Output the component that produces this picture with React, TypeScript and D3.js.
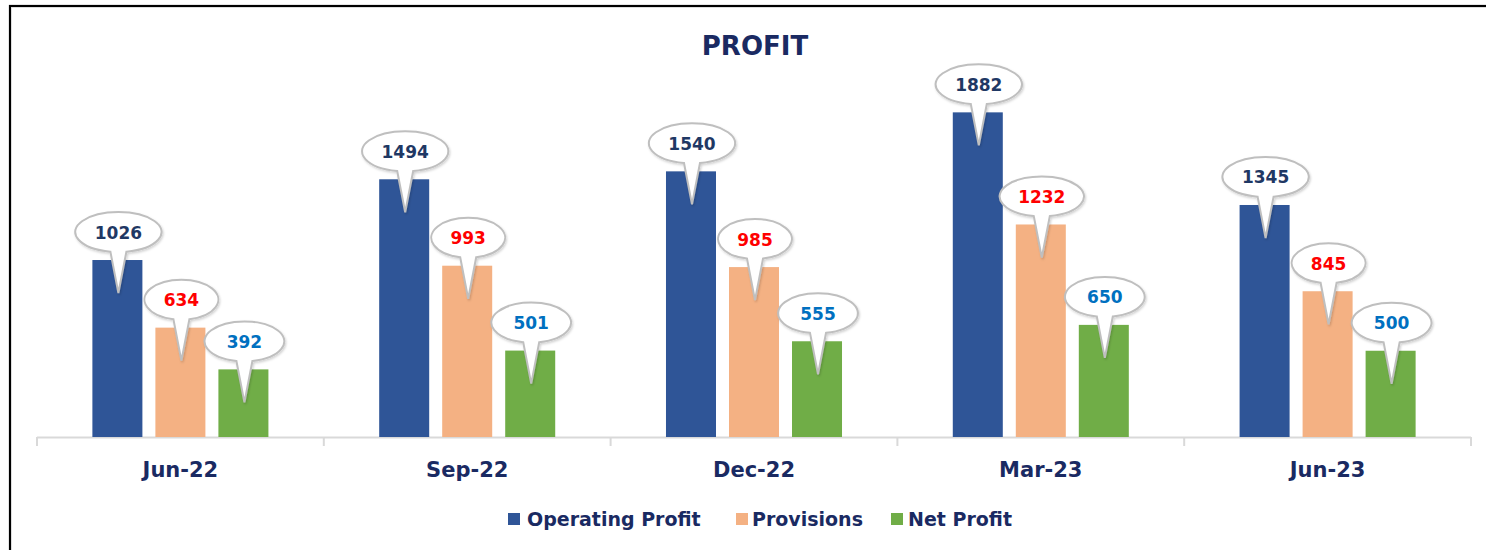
import React from "react";
import * as d3 from "d3";

const categories = ["Jun-22", "Sep-22", "Dec-22", "Mar-23", "Jun-23"];
const seriesNames = ["Operating Profit", "Provisions", "Net Profit"];
const operatingProfit = [1026, 1494, 1540, 1882, 1345];
const provisions = [634, 993, 985, 1232, 845];
const netProfit = [392, 501, 555, 650, 500];
const seriesValues = [operatingProfit, provisions, netProfit];
const barColors = ["#2F5597", "#F4B183", "#70AD47"];
const labelColors = ["#1F3864", "#FF0000", "#0070C0"];

const W = 1486;
const H = 550;
const FONT = "'DejaVu Sans', sans-serif";
const NAVY = "#1A2A62";

export default function App() {
  React.useEffect(() => {
    document.body.style.margin = "0";
    document.body.style.overflow = "hidden";
  }, []);

  const x0 = d3.scaleBand<string>().domain(categories).range([37, 1471]).padding(0);
  const x1 = d3
    .scaleBand<string>()
    .domain(seriesNames)
    .range([0, x0.bandwidth()])
    .paddingInner(13 / 63)
    .paddingOuter(0.879);
  const y = d3.scaleLinear().domain([0, 2000]).range([437, 92]);

  const bubble = (cx: number, cy: number, rx: number, ry: number, tipX: number, tipY: number) => {
    const hb = 8;
    const by = cy + ry * Math.sqrt(1 - (hb / rx) ** 2);
    return `M${cx - hb},${by} A${rx},${ry} 0 1 1 ${cx + hb},${by} L${tipX},${tipY} Z`;
  };

  const ticks = [...categories.map((c) => x0(c)!), 1471];

  return (
    <svg width={W} height={H} style={{ position: "absolute", left: 0, top: 0 }}>
      <defs>
        <filter id="sh" x="-20%" y="-20%" width="140%" height="160%">
          <feDropShadow dx="1" dy="1.5" stdDeviation="1" floodColor="#000" floodOpacity="0.18" />
        </filter>
      </defs>
      <rect x={0} y={0} width={W} height={H} fill="#fff" />
      <rect x={10} y={6} width={W + 20} height={H + 20} fill="none" stroke="#000" strokeWidth={2.2} />
      <line x1={11.5} y1={7.5} x2={W} y2={7.5} stroke="#ddd" strokeWidth={1} />
      <line x1={11.5} y1={7.5} x2={11.5} y2={H} stroke="#ddd" strokeWidth={1} />

      <text x={755} y={55} textAnchor="middle" fontFamily={FONT} fontWeight="bold" fontSize={26} fill={NAVY}>
        PROFIT
      </text>

      {/* axis */}
      <line x1={37} y1={437.5} x2={1471} y2={437.5} stroke="#D9D9D9" strokeWidth={2} />
      {ticks.map((t, i) => (
        <line key={i} x1={t} y1={437} x2={t} y2={446} stroke="#D9D9D9" strokeWidth={2} />
      ))}
      {categories.map((c) => (
        <text
          key={c}
          x={x0(c)! + x0.bandwidth() / 2}
          y={477}
          textAnchor="middle"
          fontFamily={FONT}
          fontWeight="bold"
          fontSize={21}
          fill={NAVY}
        >
          {c}
        </text>
      ))}

      {/* bars */}
      {categories.map((c, ci) =>
        seriesNames.map((s, si) => {
          const v = seriesValues[si][ci];
          const bx = x0(c)! + x1(s)!;
          return (
            <rect key={c + s} x={bx} y={y(v)} width={x1.bandwidth()} height={437 - y(v)} fill={barColors[si]} />
          );
        })
      )}

      {/* callouts */}
      {categories.map((c, ci) =>
        seriesNames.map((s, si) => {
          const v = seriesValues[si][ci];
          const label = String(v);
          const cx = x0(c)! + x1(s)! + x1.bandwidth() / 2 + 1;
          const top = y(v);
          const cy = top - 28;
          const rx = 22 + 5.3 * label.length + (si === 2 ? 2 : si === 1 ? -1 : 0);
          const ry = 20;
          return (
            <g key={"b" + c + s}>
              <path
                d={bubble(cx, cy, rx, ry, cx, top + 33)}
                fill="#fff"
                stroke="#BFBFBF"
                strokeWidth={2}
                filter="url(#sh)"
              />
              <text
                x={cx}
                y={cy + 6.5}
                textAnchor="middle"
                fontFamily={FONT}
                fontWeight="bold"
                fontSize={17}
                fill={labelColors[si]}
              >
                {label}
              </text>
            </g>
          );
        })
      )}

      {/* legend */}
      {[
        { sq: 508, tx: 527 },
        { sq: 736, tx: 752 },
        { sq: 891, tx: 908 },
      ].map((p, i) => (
        <g key={i}>
          <rect x={p.sq} y={513} width={12} height={12} fill={barColors[i]} />
          <text x={p.tx} y={526} fontFamily={FONT} fontWeight="bold" fontSize={19} fill={NAVY}>
            {seriesNames[i]}
          </text>
        </g>
      ))}
    </svg>
  );
}
